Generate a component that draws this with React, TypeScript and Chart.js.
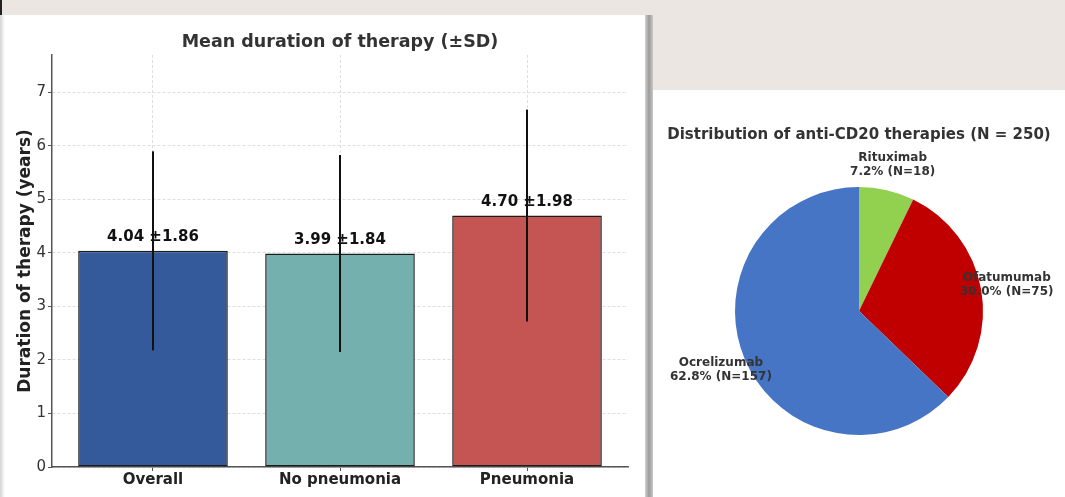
import React, { useEffect, useRef } from "react";
import { Chart, registerables } from "chart.js";

Chart.register(...registerables);

const FONT = "'DejaVu Sans', 'Liberation Sans', sans-serif";

// ---- Bar chart data ----
const barTitle = "Mean duration of therapy (±SD)";
const barYTitle = "Duration of therapy (years)";
const barCategories = ["Overall", "No pneumonia", "Pneumonia"];
const barMeans = [4.04, 3.99, 4.7];
const barSDs = [1.86, 1.84, 1.98];
const barColors = ["#345a9b", "#73b0ae", "#c45552"];
const barYMax = 7.7;

// ---- Pie chart data ----
const pieTitle = "Distribution of anti-CD20 therapies (N = 250)";
const pieLabels = ["Rituximab", "Ofatumumab", "Ocrelizumab"];
const pieCounts = [18, 75, 157];
const piePercents = ["7.2%", "30.0%", "62.8%"];
const pieColors = ["#92d050", "#c00000", "#4775c6"];

const barExtras = {
  id: "barExtras",
  afterDraw(chart: any) {
    const ctx = chart.ctx;
    const area = chart.chartArea;
    ctx.save();
    ctx.fillStyle = "#333";
    ctx.font = `bold 17.5px ${FONT}`;
    ctx.textAlign = "center";
    ctx.textBaseline = "middle";
    ctx.fillText(barTitle, (area.left + area.right) / 2, 27);
    ctx.restore();
  },
  afterDatasetsDraw(chart: any) {
    const ctx = chart.ctx;
    const y = chart.scales.y;
    const meta = chart.getDatasetMeta(0);
    ctx.save();
    meta.data.forEach((el: any, i: number) => {
      const m = barMeans[i];
      const sd = barSDs[i];
      ctx.fillStyle = "#111";
      ctx.font = `bold 15px ${FONT}`;
      ctx.textAlign = "center";
      ctx.textBaseline = "bottom";
      ctx.fillText(`${m.toFixed(2)} ±${sd.toFixed(2)}`, el.x, y.getPixelForValue(m) - 6);
      ctx.strokeStyle = "#111";
      ctx.lineWidth = 2;
      ctx.beginPath();
      ctx.moveTo(el.x, y.getPixelForValue(m + sd));
      ctx.lineTo(el.x, y.getPixelForValue(m - sd));
      ctx.stroke();
    });
    ctx.restore();
  },
};

const pieExtras = {
  id: "pieExtras",
  afterDraw(chart: any) {
    const ctx = chart.ctx;
    const meta = chart.getDatasetMeta(0);
    ctx.save();
    ctx.fillStyle = "#333";
    ctx.textAlign = "center";
    ctx.textBaseline = "middle";
    const first = meta.data[0];
    ctx.font = `bold 15px ${FONT}`;
    ctx.fillText(pieTitle, first.x, 45);
    ctx.font = `bold 12px ${FONT}`;
    meta.data.forEach((el: any, i: number) => {
      const mid = (el.startAngle + el.endAngle) / 2;
      const r = el.outerRadius * 1.21;
      const cx = el.x + Math.cos(mid) * r;
      const cy = el.y + Math.sin(mid) * r;
      ctx.fillText(pieLabels[i], cx, cy - 7);
      ctx.fillText(`${piePercents[i]} (N=${pieCounts[i]})`, cx, cy + 7);
    });
    ctx.restore();
  },
};

export default function App() {
  const barRef = useRef<HTMLCanvasElement>(null);
  const pieRef = useRef<HTMLCanvasElement>(null);

  useEffect(() => {
    const gridCommon = {
      color: "#d6d6d6",
      lineWidth: 0.8,
      tickColor: "#555",
      tickLength: 4,
      tickWidth: 1,
      offset: false,
    };
    const bar = new Chart(barRef.current!, {
      type: "bar",
      data: {
        datasets: [
          {
            data: barMeans.map((v, i) => ({ x: i, y: v })),
            backgroundColor: barColors,
            borderColor: "#1c1c1c",
            borderWidth: 1.5,
            borderSkipped: false,
            categoryPercentage: 1,
            barPercentage: 0.8,
          } as any,
        ],
      },
      options: {
        responsive: false,
        animation: false,
        devicePixelRatio: 1,
        layout: { padding: { left: 0, right: 17, top: 40, bottom: 0 } },
        plugins: { legend: { display: false }, tooltip: { enabled: false }, title: { display: false } },
        scales: {
          x: {
            type: "linear",
            offset: false,
            min: -0.54,
            max: 2.54,
            afterBuildTicks: (a: any) => {
              a.ticks = barCategories.map((_, i) => ({ value: i }));
            },
            afterFit: (s: any) => {
              s.height = 30;
            },
            ticks: {
              callback: (v: any) => barCategories[v] ?? "",
              font: { family: FONT, size: 15, weight: "bold" },
              color: "#222",
              padding: 0,
              maxRotation: 0,
              autoSkip: false,
            },
            grid: gridCommon,
            border: { color: "#555", width: 1.5, dash: [3, 2] },
          },
          y: {
            min: 0,
            max: barYMax,
            afterFit: (s: any) => {
              s.width = 52;
            },
            ticks: {
              stepSize: 1,
              includeBounds: false,
              font: { family: FONT, size: 15 },
              color: "#333",
              padding: 2,
            } as any,
            grid: gridCommon,
            border: { color: "#555", width: 1.5, dash: [3, 2] },
            title: {
              display: true,
              text: barYTitle,
              font: { family: FONT, size: 17, weight: "bold" },
              color: "#222",
              padding: { top: 15, bottom: 0 },
            },
          },
        },
      } as any,
      plugins: [barExtras],
    });

    const pie = new Chart(pieRef.current!, {
      type: "pie",
      data: {
        labels: pieLabels,
        datasets: [
          {
            data: pieCounts,
            backgroundColor: pieColors,
            borderWidth: 0,
          },
        ],
      },
      options: {
        responsive: false,
        animation: false,
        devicePixelRatio: 1,
        layout: { padding: { left: 82, right: 82, top: 97, bottom: 62 } },
        plugins: { legend: { display: false }, tooltip: { enabled: false }, title: { display: false } },
      } as any,
      plugins: [pieExtras],
    });

    return () => {
      bar.destroy();
      pie.destroy();
    };
  }, []);

  return (
    <div
      style={{
        position: "fixed",
        left: 0,
        top: 0,
        width: 1065,
        height: 497,
        background: "#ebe6e1",
        overflow: "hidden",
      }}
    >
      <div style={{ position: "absolute", left: 0, top: 0, width: 2, height: 15, background: "#222" }} />
      <div style={{ position: "absolute", left: 0, top: 15, width: 645, height: 482, background: "#fff" }}>
        <canvas ref={barRef} width={645} height={482} style={{ display: "block", width: 645, height: 482 }} />
      </div>
      <div
        style={{
          position: "absolute",
          left: 0,
          top: 15,
          width: 5,
          height: 482,
          background: "linear-gradient(to right, #d4d4d4, rgba(255,255,255,0))",
        }}
      />
      <div
        style={{
          position: "absolute",
          left: 645,
          top: 15,
          width: 8,
          height: 482,
          background: "linear-gradient(to right, #d2d2d2, #9a9a9a 50%, #c8c8c8)",
        }}
      />
      <div style={{ position: "absolute", left: 653, top: 90, width: 412, height: 407, background: "#fff" }}>
        <canvas ref={pieRef} width={412} height={407} style={{ display: "block", width: 412, height: 407 }} />
      </div>
    </div>
  );
}
